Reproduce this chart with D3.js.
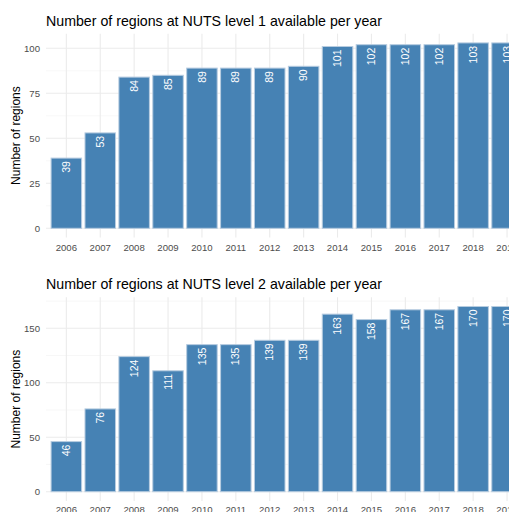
<!DOCTYPE html>
<html>
<head>
<meta charset="utf-8">
<script src="https://cdn.jsdelivr.net/npm/d3@7"></script>
<style>
  html, body { margin: 0; padding: 0; background: #fff; overflow: hidden; }
  svg { display: block; font-family: "Liberation Sans", Arial, sans-serif; }
</style>
</head>
<body>
<svg id="chart" width="509" height="512"></svg>
<script>
const years = ["2006","2007","2008","2009","2010","2011","2012","2013","2014","2015","2016","2017","2018","2019"];
const nuts1Values = [39, 53, 84, 85, 89, 89, 89, 90, 101, 102, 102, 102, 103, 103];
const nuts2Values = [46, 76, 124, 111, 135, 135, 139, 139, 163, 158, 167, 167, 170, 170];
const nuts1Ticks = [0, 25, 50, 75, 100];
const nuts2Ticks = [0, 50, 100, 150];
const titles = ["Number of regions at NUTS level 1 available per year",
                "Number of regions at NUTS level 2 available per year"];
const yTitle = "Number of regions";

const svg = d3.select("#chart");
const step = 33.9;
const left = 46;
const right = left + (years.length + 0.2) * step;

function panel(values, ticks, minorTicks, title, y0, yRef, unitRef, titleY, xLabelY) {
  const pxPerUnit = (y0 - yRef) / unitRef;
  const maxV = d3.max(values);
  const top = y0 - maxV * 1.05 * pxPerUnit;
  const bottom = y0 + maxV * 0.05 * pxPerUnit;
  const y = d3.scaleLinear().domain([-maxV * 0.05, maxV * 1.05]).range([bottom, top]);
  const xc = d3.scalePoint().domain(years)
    .range([left + 0.6 * step, left + 0.6 * step + (years.length - 1) * step]);
  const bw = 0.9 * step;
  const g = svg.append("g");

  g.selectAll(".minor").data(minorTicks).join("line")
    .attr("x1", left).attr("x2", right)
    .attr("y1", d => y(d)).attr("y2", d => y(d))
    .attr("stroke", "#f2f2f2").attr("stroke-width", 0.6);
  g.selectAll(".majorY").data(ticks).join("line")
    .attr("x1", left).attr("x2", right)
    .attr("y1", d => y(d)).attr("y2", d => y(d))
    .attr("stroke", "#ebebeb").attr("stroke-width", 1.1);
  g.selectAll(".majorX").data(years).join("line")
    .attr("x1", d => xc(d)).attr("x2", d => xc(d))
    .attr("y1", top).attr("y2", bottom)
    .attr("stroke", "#ebebeb").attr("stroke-width", 1.1);

  g.selectAll(".bar").data(years).join("rect")
    .attr("x", d => xc(d) - bw / 2)
    .attr("width", bw)
    .attr("y", (d, i) => y(values[i]))
    .attr("height", (d, i) => y(0) - y(values[i]))
    .attr("fill", "#4682B4")
    .attr("stroke", "#b7cce0")
    .attr("stroke-width", 1);

  g.selectAll(".lbl").data(years).join("text")
    .attr("transform", (d, i) => `translate(${xc(d) + 3.6},${y(values[i]) + 3}) rotate(-90)`)
    .attr("text-anchor", "end")
    .attr("font-size", "10.5px")
    .attr("fill", "#ffffff")
    .text((d, i) => values[i]);

  g.selectAll(".ytl").data(ticks).join("text")
    .attr("x", 40).attr("y", d => y(d) + 3.4)
    .attr("text-anchor", "end")
    .attr("font-size", "9.6px")
    .attr("fill", "#4d4d4d")
    .text(d => d);

  g.selectAll(".xtl").data(years).join("text")
    .attr("x", d => xc(d)).attr("y", xLabelY)
    .attr("text-anchor", "middle")
    .attr("font-size", "9.6px")
    .attr("fill", "#4d4d4d")
    .text(d => d);

  g.append("text")
    .attr("transform", `translate(${20},${(top + bottom) / 2}) rotate(-90)`)
    .attr("text-anchor", "middle")
    .attr("font-size", "12px")
    .attr("fill", "#000")
    .text(yTitle);

  g.append("text")
    .attr("x", left).attr("y", titleY)
    .attr("font-size", "14.2px")
    .attr("fill", "#000")
    .text(title);
}

panel(nuts1Values, nuts1Ticks, [12.5, 37.5, 62.5, 87.5], titles[0], 228.3, 48.3, 100, 25.5, 250.6);
panel(nuts2Values, nuts2Ticks, [25, 75, 125, 175], titles[1], 491.7, 328.3, 150, 289, 513);
</script>
</body>
</html>
